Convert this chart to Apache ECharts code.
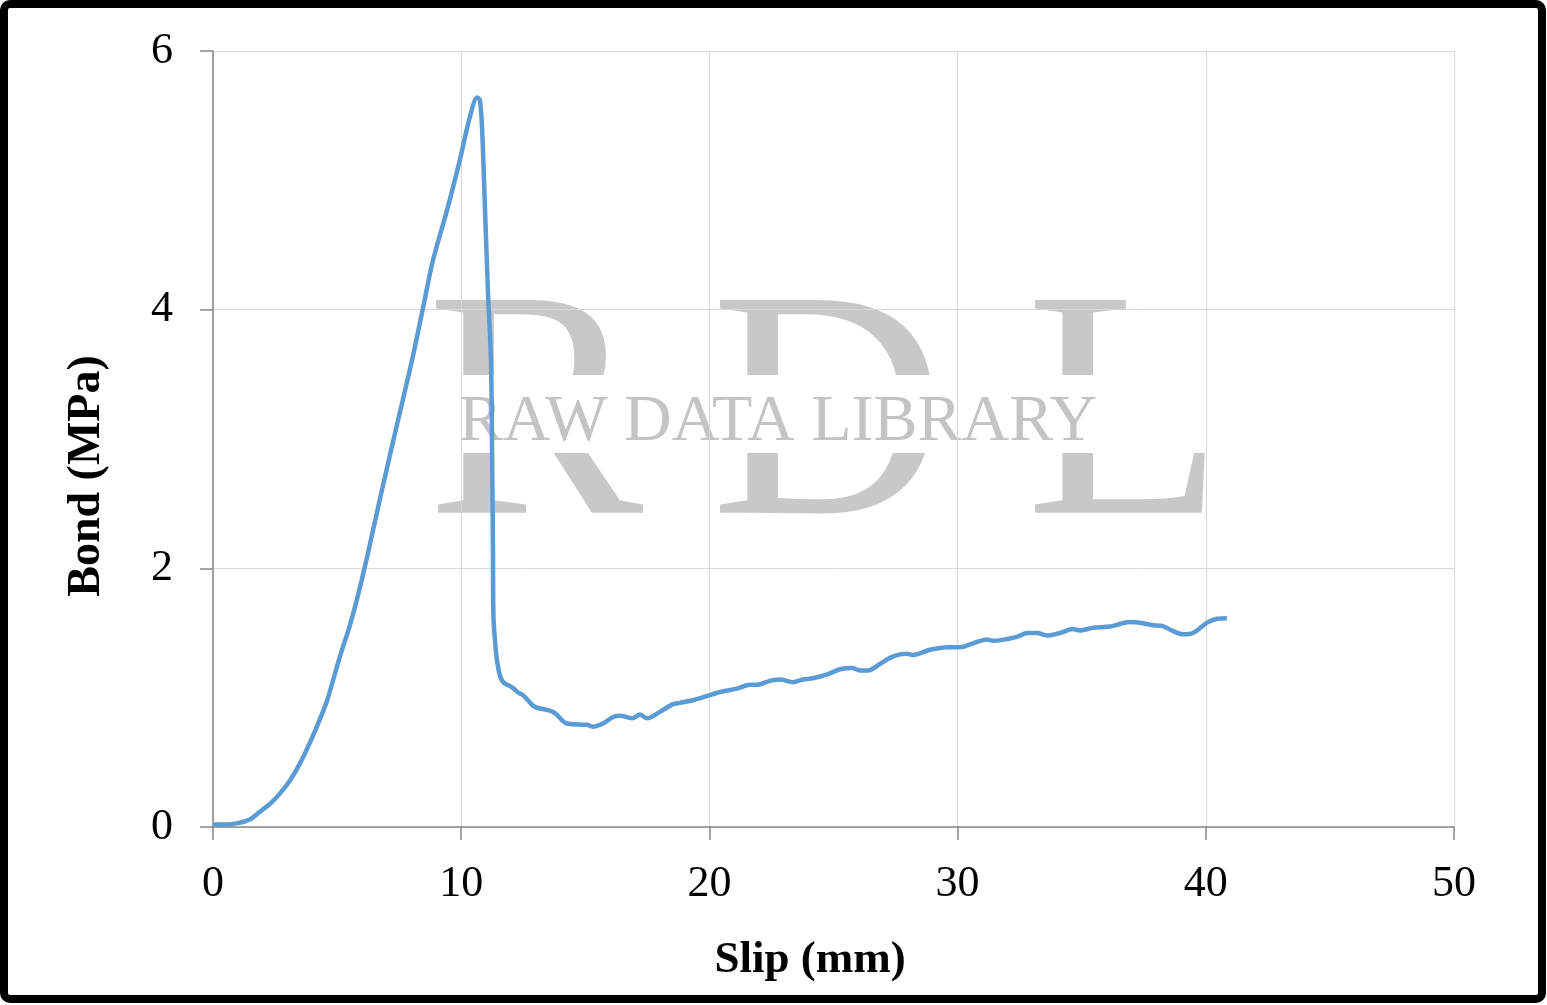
<!DOCTYPE html>
<html>
<head>
<meta charset="utf-8">
<script src="https://cdn.jsdelivr.net/npm/echarts@6/dist/echarts.min.js"></script>
<style>
html,body{margin:0;padding:0;background:#fff;}
#chart{width:1547px;height:1005px;}
</style>
</head>
<body>
<div id="chart"></div>
<script>
var slip = [0, 0.5, 1.0, 1.5, 1.9, 2.3, 2.7, 3.1, 3.5, 3.9, 4.3, 4.6, 5.1, 5.5, 5.8, 6.2, 6.8, 7.4, 8.02, 8.5, 8.86, 9.43, 9.95, 10.35, 10.64, 10.75, 10.84, 10.96, 11.08, 11.2, 11.25, 11.28, 11.3, 11.38, 11.44, 11.55, 11.69, 12.05, 12.29, 12.49, 12.89, 13.1, 13.46, 13.78, 14.26, 15.07, 15.31, 15.71, 16.12, 16.4, 16.92, 17.2, 17.49, 18.0, 18.53, 18.8, 19.34, 20.02, 20.55, 21.11, 21.64, 21.92, 22.44, 22.85, 23.37, 23.77, 24.17, 24.74, 25.26, 25.74, 26.07, 26.39, 26.87, 27.4, 27.96, 28.2, 28.89, 29.57, 30.1, 30.62, 31.18, 31.43, 32.39, 32.8, 33.2, 33.64, 34.13, 34.65, 34.93, 35.45, 36.14, 36.54, 36.95, 37.35, 37.87, 38.24, 38.68, 39.08, 39.48, 40.05, 40.45, 40.85];
var bond = [0.02, 0.02, 0.03, 0.06, 0.12, 0.18, 0.26, 0.36, 0.49, 0.65, 0.83, 0.98, 1.31, 1.55, 1.76, 2.08, 2.60, 3.10, 3.61, 4.05, 4.38, 4.77, 5.16, 5.49, 5.64, 5.62, 5.41, 4.77, 4.13, 3.61, 2.8, 2.14, 1.62, 1.40, 1.29, 1.18, 1.12, 1.08, 1.04, 1.02, 0.94, 0.92, 0.905, 0.88, 0.80, 0.79, 0.775, 0.80, 0.85, 0.86, 0.84, 0.87, 0.84, 0.89, 0.95, 0.96, 0.98, 1.02, 1.05, 1.07, 1.10, 1.10, 1.13, 1.14, 1.12, 1.14, 1.15, 1.18, 1.22, 1.23, 1.21, 1.21, 1.26, 1.32, 1.34, 1.33, 1.37, 1.39, 1.39, 1.42, 1.45, 1.44, 1.47, 1.50, 1.50, 1.48, 1.50, 1.53, 1.52, 1.54, 1.55, 1.57, 1.585, 1.58, 1.56, 1.555, 1.515, 1.49, 1.50, 1.58, 1.61, 1.615];
var xTitle = 'Slip (mm)';
var yTitle = 'Bond (MPa)';
var watermarkBig = ['R', 'D', 'L'];
var watermarkSmall = 'RAW DATA LIBRARY';

var pts = slip.map(function (x, i) { return [x, bond[i]]; });
var serif = '"Liberation Serif", "Times New Roman", serif';

var chart = echarts.init(document.getElementById('chart'), null, {renderer: 'canvas'});
chart.setOption({
  backgroundColor: '#fff',
  animation: false,
  grid: {left: 213, top: 51, width: 1241, height: 776, containLabel: false},
  xAxis: {
    type: 'value', min: 0, max: 50, interval: 10,
    axisLine: {show: true, onZero: false, lineStyle: {color: '#868686', width: 1.5}},
    axisTick: {show: true, inside: false, length: 13, lineStyle: {color: '#868686', width: 1.5}},
    axisLabel: {fontFamily: serif, fontSize: 44, color: '#000', margin: 35},
    splitLine: {show: true, lineStyle: {color: '#d9d9d9', width: 1}}
  },
  yAxis: {
    type: 'value', min: 0, max: 6, interval: 2,
    axisLine: {show: true, lineStyle: {color: '#868686', width: 1.5}},
    axisTick: {show: true, inside: false, length: 13, lineStyle: {color: '#868686', width: 1.5}},
    axisLabel: {fontFamily: serif, fontSize: 44, color: '#000', margin: 40},
    splitLine: {show: true, lineStyle: {color: '#d9d9d9', width: 1}}
  },
  graphic: [
    {type: 'rect', shape: {x: 4, y: 4, width: 1538, height: 995, r: 6}, style: {fill: null, stroke: '#000', lineWidth: 8}, z: 10},
    {type: 'text', x: 535, y: 265, z: -3, style: {text: watermarkBig[0], font: '325px ' + serif, fill: '#c8c8c8', align: 'center', verticalAlign: 'top'}},
    {type: 'text', x: 828, y: 265, z: -3, style: {text: watermarkBig[1], font: '325px ' + serif, fill: '#c8c8c8', align: 'center', verticalAlign: 'top'}},
    {type: 'text', x: 1125, y: 265, z: -3, style: {text: watermarkBig[2], font: '325px ' + serif, fill: '#c8c8c8', align: 'center', verticalAlign: 'top'}},
    {type: 'rect', shape: {x: 420, y: 375, width: 810, height: 78}, z: -2, style: {fill: '#fff'}},
    {type: 'text', x: 778, y: 390, z: -1, style: {text: watermarkSmall, font: '66px ' + serif, fill: '#c4c4c4', align: 'center', verticalAlign: 'top'}},
    {type: 'text', x: 810, y: 960, z: 5, style: {text: xTitle, font: 'bold 45px ' + serif, fill: '#000', align: 'center', verticalAlign: 'middle'}},
    {type: 'text', x: 87, y: 476, rotation: Math.PI / 2, z: 5, style: {text: yTitle, font: 'bold 46px ' + serif, fill: '#000', align: 'center', verticalAlign: 'middle'}}
  ],
  series: [{
    type: 'line', data: pts, showSymbol: false, smooth: 0.3, z: 5,
    lineStyle: {color: '#5b9bd5', width: 4.5}
  }]
});
</script>
</body>
</html>
